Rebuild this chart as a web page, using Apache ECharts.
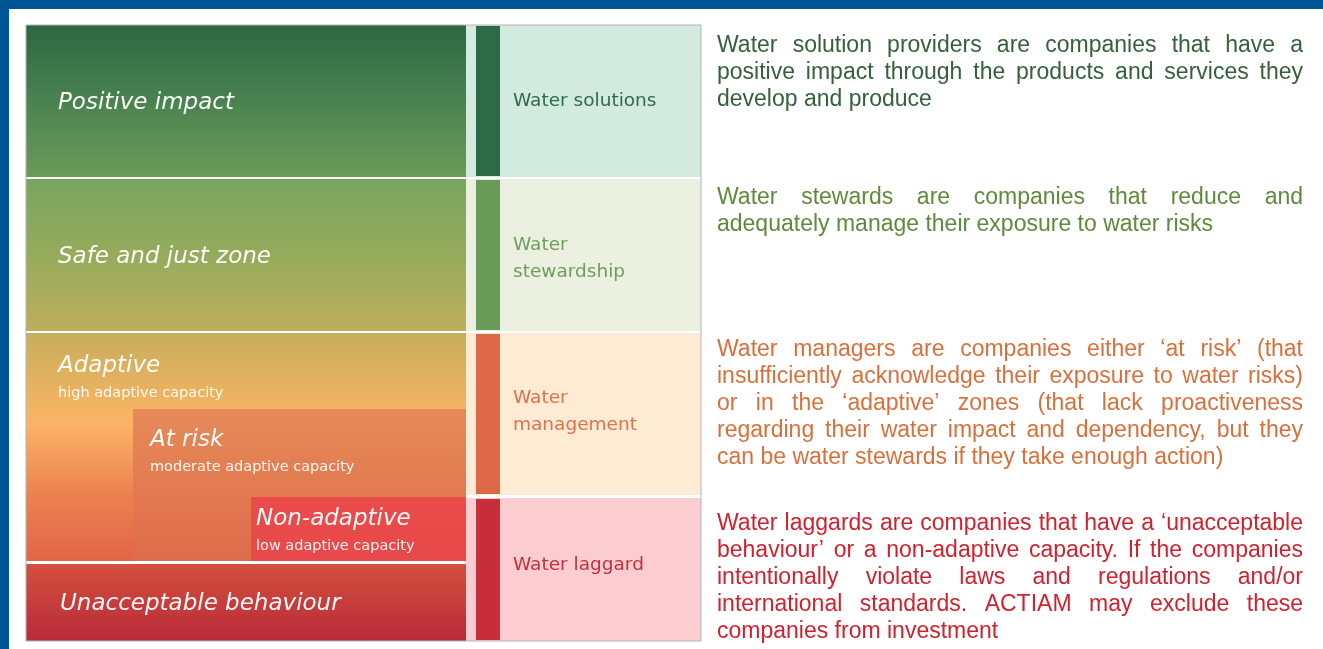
<!DOCTYPE html>
<html>
<head>
<meta charset="utf-8">
<script src="https://cdn.jsdelivr.net/npm/echarts@6/dist/echarts.min.js"></script>
<style>
  html, body { margin: 0; padding: 0; background: #fff; }
  #chart { width: 1323px; height: 649px; }
</style>
</head>
<body>
<div id="chart"></div>
<script>
// zones of the left panel, in scale units (0 = top of the diagram)
const zoneNames = ['Positive impact', 'Safe and just zone', 'Adaptive', 'Unacceptable behaviour'];
const zoneNotes = ['', '', 'high adaptive capacity', ''];
const zoneTop = [0, 154, 308, 539];
const zoneBottom = [152, 306, 536, 616];

// nested zones inside "Adaptive"
const subNames = ['At risk', 'Non-adaptive'];
const subNotes = ['moderate adaptive capacity', 'low adaptive capacity'];
const subLeft = [107, 225];
const subTop = [384, 472];
const subBottom = [536, 536];

// the four categories on the right
const catNames = ['Water solutions', 'Water\nstewardship', 'Water\nmanagement', 'Water laggard'];
const catTop = [0, 154, 308, 473];
const catBottom = [152, 306, 470, 616];

// description of each category, one entry per printed line
const descLines = [
  ['Water solution providers are companies that have a',
   'positive impact through the products and services they',
   'develop and produce'],
  ['Water stewards are companies that reduce and',
   'adequately manage their exposure to water risks'],
  ['Water managers are companies either \u2018at risk\u2019 (that',
   'insufficiently acknowledge their exposure to water risks)',
   'or in the \u2018adaptive\u2019 zones (that lack proactiveness',
   'regarding their water impact and dependency, but they',
   'can be water stewards if they take enough action)'],
  ['Water laggards are companies that have a \u2018unacceptable',
   'behaviour\u2019 or a non-adaptive capacity. If the companies',
   'intentionally violate laws and regulations and/or',
   'international standards. ACTIAM may exclude these',
   'companies from investment']
];

// layout of the scale
const PANEL_R = 440, BAR_L = 450, BAR_R = 474, BAND_R = 675, DESC_L = 691, DESC_R = 1277;

const zoneStops = [
  [[0, '#2c6743'], [0.5, '#4a824f'], [1, '#6b9b5a']],
  [[0, '#78a55f'], [0.5, '#96ab5c'], [1, '#beae5a']],
  [[0, '#c6ae5c'], [0.32, '#f2b462'], [0.4, '#fcb366'], [0.7, '#ec8250'], [1, '#e26647']],
  [[0, '#d3503f'], [1, '#ba2a38']]
];
const subStops = [
  [[0, '#e68b58'], [1, '#df6c4b']],
  [[0, '#e94c4b'], [1, '#e8494a']]
];
const zoneLabel = [[32, 0], [32, 0], [32, 33], [34, 0]];
const subLabel = [[17, 31], [5, 22]];
const catPale = ['#d3ebdf', '#ebf0e0', '#fdebd4', '#fbcdd1'];
const catDark = ['#2d6a48', '#6a9a58', '#dc6848', '#c62e3c'];
const catText = ['#2e6b4b', '#6f9e5c', '#e0714d', '#c4303e'];
const catShift = [0, 4, -2, -4];
const descColor = ['#35603a', '#5f8a3c', '#d9703c', '#d0222e'];
const descTopY = [21, 173, 325, 499];
const LINE_H = 27;

const TITLE_FONT = 'italic 23px "DejaVu Sans"';
const NOTE_FONT = '14.5px "DejaVu Sans"';
const CAT_FONT = '18.5px "DejaVu Sans"';
const DESC_FONT = '23px "Liberation Sans"';

const measureCtx = document.createElement('canvas').getContext('2d');
function textWidth(str, font) {
  measureCtx.font = font;
  return measureCtx.measureText(str).width;
}

function rectOf(api, x0, y0, x1, y1) {
  const a = api.coord([x0, y0]);
  const b = api.coord([x1, y1]);
  return { x: a[0], y: a[1], width: b[0] - a[0], height: b[1] - a[1] };
}

function labelTexts(r, title, note, inset, topOff) {
  const ty = topOff ? r.y + topOff : r.y + r.height / 2 + 2;
  const out = [{
    type: 'text', x: r.x + inset, y: ty,
    style: { text: title, font: TITLE_FONT, fill: '#fff', verticalAlign: 'middle', opacity: 0.96 }
  }];
  if (note) {
    out.push({
      type: 'text', x: r.x + inset, y: ty + 27,
      style: { text: note, font: NOTE_FONT, fill: '#fff', verticalAlign: 'middle', opacity: 0.92 }
    });
  }
  return out;
}

function zoneItem(params, api) {
  const i = params.dataIndex;
  const r = rectOf(api, api.value(0), api.value(1), api.value(2), api.value(3));
  const children = [{
    type: 'rect', shape: r,
    style: { fill: new echarts.graphic.LinearGradient(0, 0, 0, 1, zoneStops[i].map(s => ({ offset: s[0], color: s[1] }))) }
  }];
  return { type: 'group', children: children.concat(labelTexts(r, zoneNames[i], zoneNotes[i], zoneLabel[i][0], zoneLabel[i][1])) };
}

function subItem(params, api) {
  const i = params.dataIndex;
  const r = rectOf(api, api.value(0), api.value(1), api.value(2), api.value(3));
  const children = [{
    type: 'rect', shape: r,
    style: { fill: new echarts.graphic.LinearGradient(0, 0, 0, 1, subStops[i].map(s => ({ offset: s[0], color: s[1] }))) }
  }];
  return { type: 'group', children: children.concat(labelTexts(r, subNames[i], subNotes[i], subLabel[i][0], subLabel[i][1])) };
}

function catItem(params, api) {
  const i = params.dataIndex;
  const pale = rectOf(api, PANEL_R, api.value(0), BAND_R, api.value(1));
  const dark = rectOf(api, BAR_L, api.value(0) + 1, BAR_R, api.value(1) - 1);
  const tx = api.coord([BAR_R + 13, 0])[0];
  return {
    type: 'group',
    children: [
      { type: 'rect', shape: pale, style: { fill: catPale[i] } },
      { type: 'rect', shape: dark, style: { fill: catDark[i] } },
      {
        type: 'text', x: tx, y: pale.y + pale.height / 2 + catShift[i],
        style: { text: catNames[i], font: CAT_FONT, fill: catText[i], verticalAlign: 'middle', lineHeight: 27 }
      }
    ]
  };
}

function descItem(params, api) {
  const g = api.value(0), l = api.value(1);
  const line = descLines[g][l];
  const left = api.coord([DESC_L, descTopY[g] + l * LINE_H]);
  const right = api.coord([DESC_R, 0])[0];
  const style = { font: DESC_FONT, fill: descColor[g], verticalAlign: 'middle' };
  const isLast = l === descLines[g].length - 1;
  if (isLast) {
    return { type: 'text', x: left[0], y: left[1], style: Object.assign({ text: line }, style) };
  }
  // justified line: spread the words over the full column width
  const words = line.split(' ');
  const widths = words.map(w => textWidth(w, DESC_FONT));
  const used = widths.reduce((s, w) => s + w, 0);
  const gap = (right - left[0] - used) / (words.length - 1);
  let x = left[0];
  const children = words.map((w, k) => {
    const el = { type: 'text', x: x, y: left[1], style: Object.assign({ text: w }, style) };
    x += widths[k] + gap;
    return el;
  });
  return { type: 'group', children };
}

function frameItem(params, api) {
  const r = rectOf(api, 0, 0, BAND_R, 616);
  return { type: 'rect', shape: r, style: { fill: 'none', stroke: '#b4b4b4', lineWidth: 1 } };
}

const descData = [];
descLines.forEach((lines, g) => lines.forEach((_, l) => descData.push([g, l])));

const chart = echarts.init(document.getElementById('chart'), null, { renderer: 'canvas' });
chart.setOption({
  animation: false,
  backgroundColor: '#ffffff',
  grid: { left: 26, right: 20, top: 25, bottom: 8 },
  xAxis: { type: 'value', min: 0, max: 1277, show: false },
  yAxis: { type: 'value', min: 0, max: 616, inverse: true, show: false },
  graphic: [
    { type: 'rect', left: 0, top: 0, shape: { width: 1323, height: 9 }, style: { fill: '#005597' } },
    { type: 'rect', left: 0, top: 0, shape: { width: 9, height: 649 }, style: { fill: '#005597' } }
  ],
  series: [
    {
      type: 'custom', renderItem: catItem, silent: true,
      data: catTop.map((t, i) => [t, catBottom[i]])
    },
    {
      type: 'custom', renderItem: zoneItem, silent: true,
      data: zoneTop.map((t, i) => [0, t, PANEL_R, zoneBottom[i]])
    },
    {
      type: 'custom', renderItem: subItem, silent: true,
      data: subTop.map((t, i) => [subLeft[i], t, PANEL_R, subBottom[i]])
    },
    {
      type: 'custom', renderItem: frameItem, silent: true,
      data: [[0, 0]]
    },
    {
      type: 'custom', renderItem: descItem, silent: true,
      data: descData
    }
  ]
});
</script>
</body>
</html>
